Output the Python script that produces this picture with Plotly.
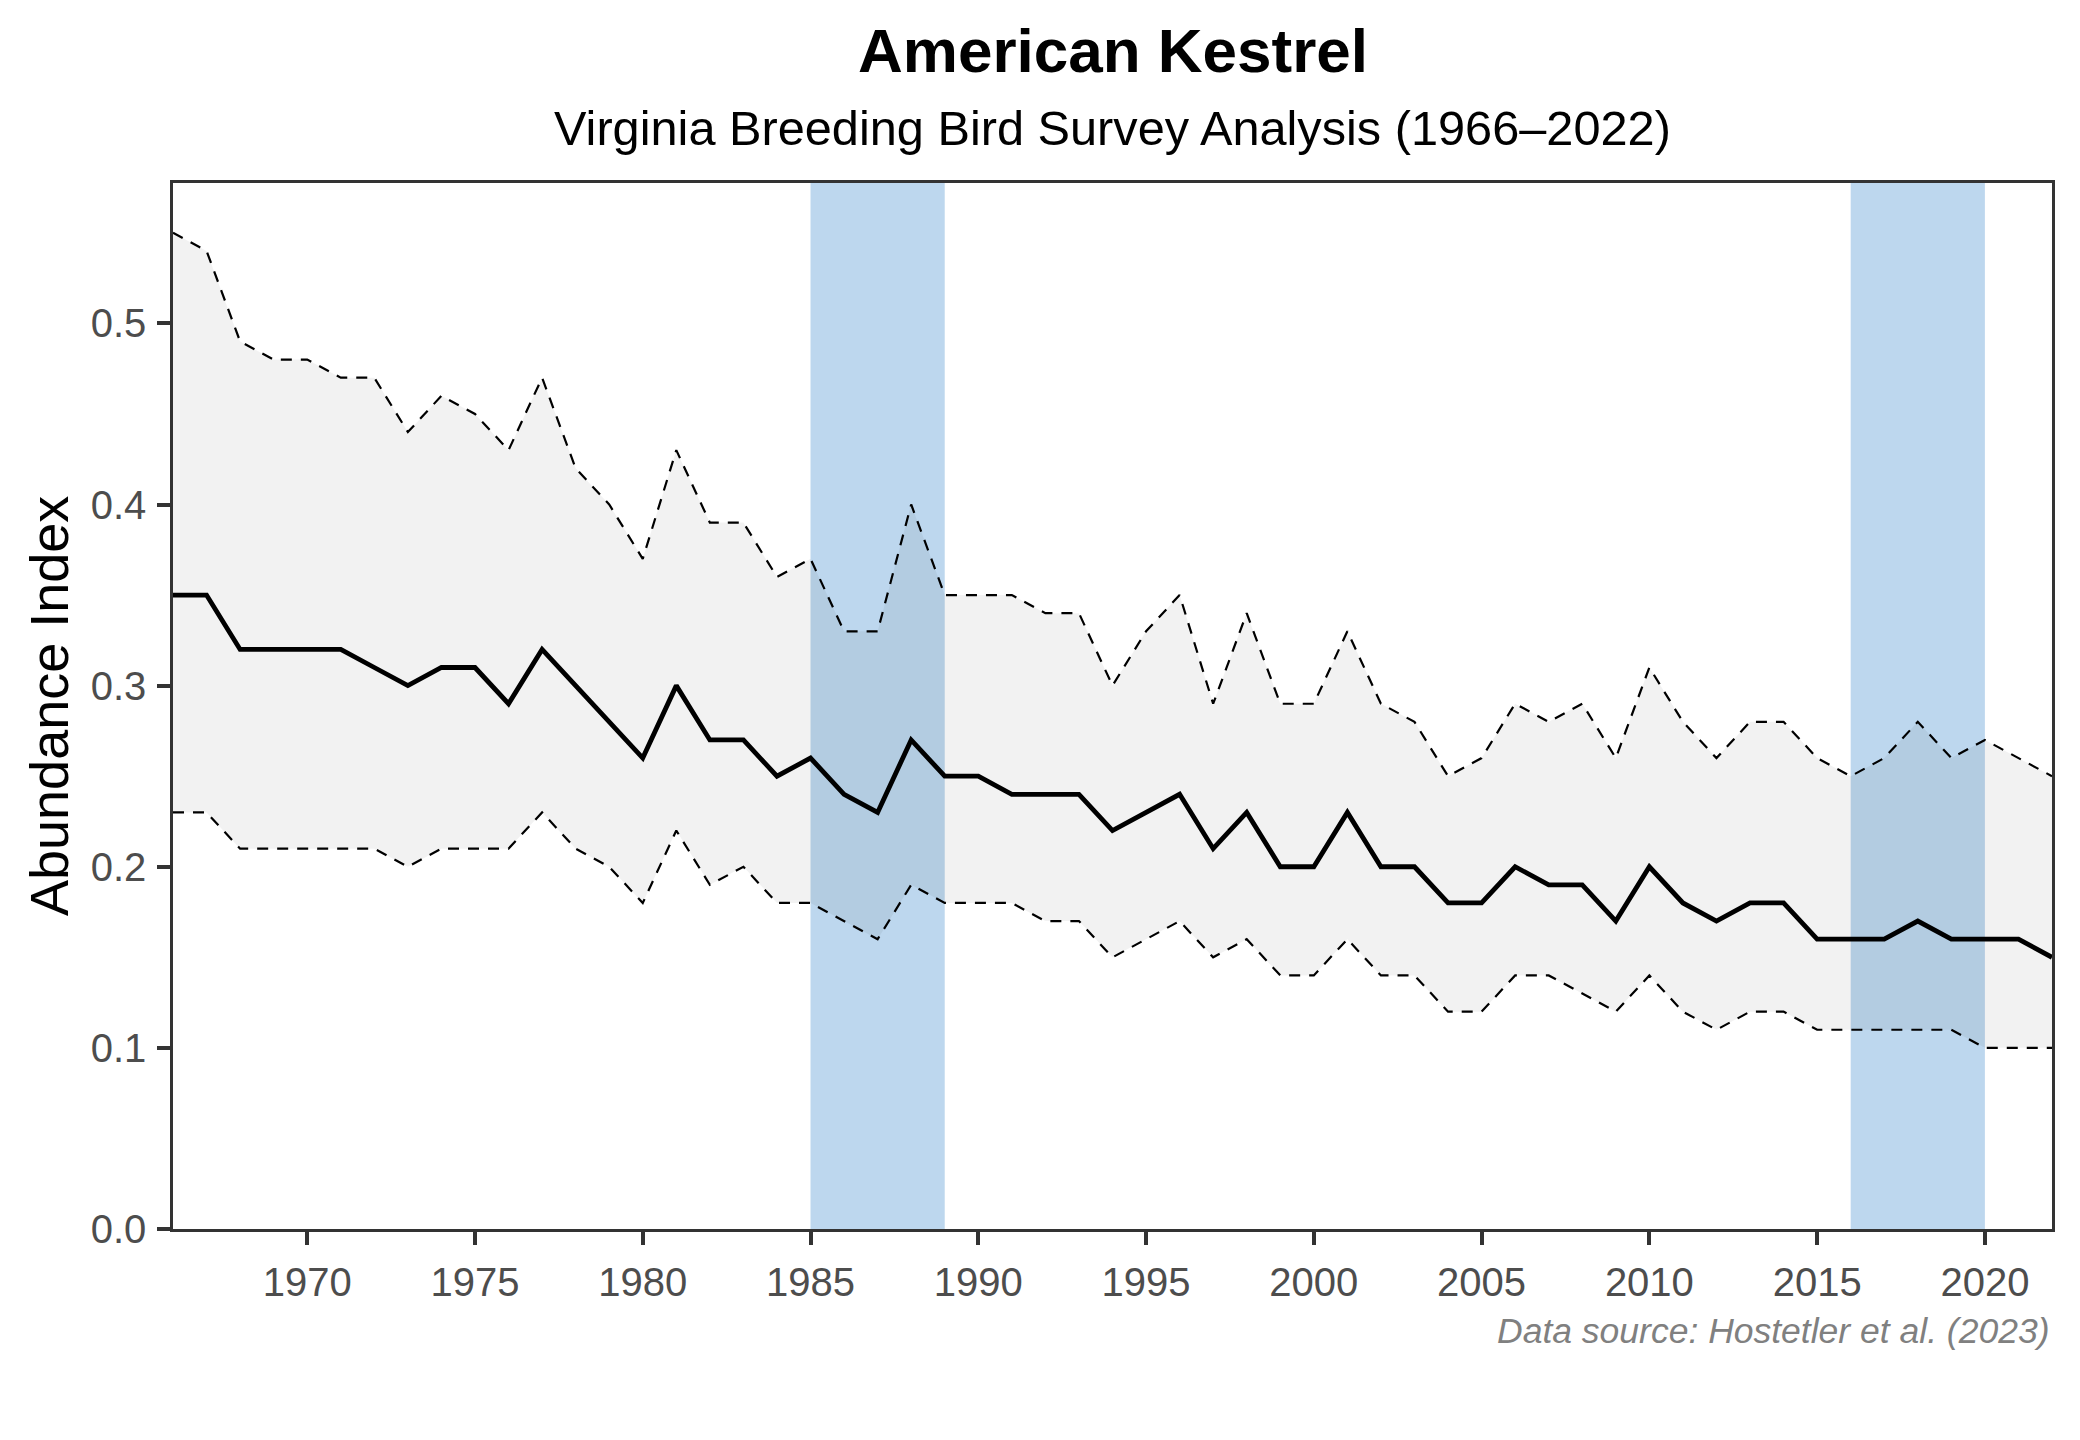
import plotly.graph_objects as go

years = list(range(1966, 2023))
index_vals = [0.35, 0.35, 0.32, 0.32, 0.32, 0.32, 0.31, 0.30, 0.31, 0.31,
              0.29, 0.32, 0.30, 0.28, 0.26, 0.30, 0.27, 0.27, 0.25, 0.26,
              0.24, 0.23, 0.27, 0.25, 0.25, 0.24, 0.24, 0.24, 0.22, 0.23,
              0.24, 0.21, 0.23, 0.20, 0.20, 0.23, 0.20, 0.20, 0.18, 0.18,
              0.20, 0.19, 0.19, 0.17, 0.20, 0.18, 0.17, 0.18, 0.18, 0.16,
              0.16, 0.16, 0.17, 0.16, 0.16, 0.16, 0.15]
upper_vals = [0.55, 0.54, 0.49, 0.48, 0.48, 0.47, 0.47, 0.44, 0.46, 0.45,
              0.43, 0.47, 0.42, 0.40, 0.37, 0.43, 0.39, 0.39, 0.36, 0.37,
              0.33, 0.33, 0.40, 0.35, 0.35, 0.35, 0.34, 0.34, 0.30, 0.33,
              0.35, 0.29, 0.34, 0.29, 0.29, 0.33, 0.29, 0.28, 0.25, 0.26,
              0.29, 0.28, 0.29, 0.26, 0.31, 0.28, 0.26, 0.28, 0.28, 0.26,
              0.25, 0.26, 0.28, 0.26, 0.27, 0.26, 0.25]
lower_vals = [0.23, 0.23, 0.21, 0.21, 0.21, 0.21, 0.21, 0.20, 0.21, 0.21,
              0.21, 0.23, 0.21, 0.20, 0.18, 0.22, 0.19, 0.20, 0.18, 0.18,
              0.17, 0.16, 0.19, 0.18, 0.18, 0.18, 0.17, 0.17, 0.15, 0.16,
              0.17, 0.15, 0.16, 0.14, 0.14, 0.16, 0.14, 0.14, 0.12, 0.12,
              0.14, 0.14, 0.13, 0.12, 0.14, 0.12, 0.11, 0.12, 0.12, 0.11,
              0.11, 0.11, 0.11, 0.11, 0.10, 0.10, 0.10]
highlight_periods = [(1985, 1989), (2016, 2020)]
x_ticks = [1970, 1975, 1980, 1985, 1990, 1995, 2000, 2005, 2010, 2015, 2020]
y_ticks = [0.0, 0.1, 0.2, 0.3, 0.4, 0.5]

title_text = "American Kestrel"
subtitle_text = "Virginia Breeding Bird Survey Analysis (1966–2022)"
caption_text = "Data source: Hostetler et al. (2023)"
y_title = "Abundance Index"

FONT = "Liberation Sans, Arial, Helvetica, sans-serif"
OFF = 8  # default page body margin
W, H = 2080 - OFF, 1440 - OFF
L, R, T, B = 173 - OFF, 28, 183 - OFF, 211
PH = H - T - B

fig = go.Figure()

# ribbon
fig.add_trace(go.Scatter(
    x=years + years[::-1],
    y=upper_vals + lower_vals[::-1],
    fill="toself", fillcolor="rgba(0,0,0,0.05)",
    line=dict(width=0), mode="lines", hoverinfo="skip", showlegend=False))

for vals in (upper_vals, lower_vals):
    fig.add_trace(go.Scatter(
        x=years, y=vals, mode="lines",
        line=dict(color="black", width=2.2, dash="11px,9px"),
        showlegend=False))

fig.add_trace(go.Scatter(
    x=years, y=index_vals, mode="lines",
    line=dict(color="black", width=4.8),
    showlegend=False))

for x0, x1 in highlight_periods:
    fig.add_shape(type="rect", xref="x", yref="paper", x0=x0, x1=x1, y0=0, y1=1,
                  fillcolor="#BDD7EE", line=dict(width=0), layer="below")

axis_common = dict(
    showgrid=False, zeroline=False, showline=True, mirror=True,
    linecolor="#333333", linewidth=2.5,
    ticks="outside", ticklen=13, tickwidth=3.5, tickcolor="#333333",
    tickfont=dict(family=FONT, size=40, color="#4D4D4D"),
)

fig.update_xaxes(range=[1966, 2022], tickvals=x_ticks, ticklabelstandoff=3, **axis_common)
fig.update_yaxes(range=[0, 0.5775], tickvals=y_ticks, tickformat=".1f", ticklabelstandoff=3, **axis_common)

def py(pix):
    # pix given in page coordinates
    return 1 - (pix - OFF - T) / PH

def px(pix):
    return (pix - OFF - L) / (W - L - R)

fig.add_annotation(text="<b>" + title_text + "</b>", xref="paper", yref="paper",
                   x=0.5, y=py(50), xanchor="center", yanchor="middle", showarrow=False,
                   font=dict(family=FONT, size=62, color="black"))
fig.add_annotation(text=subtitle_text, xref="paper", yref="paper",
                   x=0.5, y=py(128), xanchor="center", yanchor="middle", showarrow=False,
                   font=dict(family=FONT, size=48.7, color="black"))
fig.add_annotation(text="<i>" + caption_text + "</i>", xref="paper", yref="paper",
                   x=1, y=py(1331), xanchor="right", yanchor="middle", showarrow=False,
                   font=dict(family=FONT, size=35.5, color="#808080"))
fig.add_annotation(text=y_title, xref="paper", yref="paper",
                   x=px(49), y=0.5, xanchor="center", yanchor="middle",
                   textangle=-90, showarrow=False,
                   font=dict(family=FONT, size=54, color="black"))

fig.update_layout(
    width=W, height=H,
    margin=dict(l=L, r=R, t=T, b=B, pad=0),
    paper_bgcolor="white", plot_bgcolor="white",
    showlegend=False,
)

fig.write_html("out.html")
